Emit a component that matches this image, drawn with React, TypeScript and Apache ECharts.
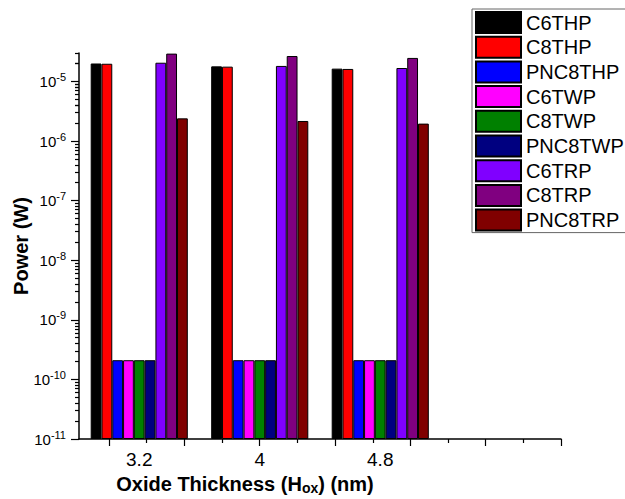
import React, { useEffect, useRef } from 'react';
import * as echarts from 'echarts';

// ---- data ----
const categories = ['3.2', '4', '4.8', ''];
const seriesNames = ['C6THP', 'C8THP', 'PNC8THP', 'C6TWP', 'C8TWP', 'PNC8TWP', 'C6TRP', 'C8TRP', 'PNC8TRP'];
const C6THP = [2.0e-5, 1.79e-5, 1.64e-5, null];
const C8THP = [1.98e-5, 1.77e-5, 1.62e-5, null];
const PNC8THP = [2.1e-10, 2.1e-10, 2.1e-10, null];
const C6TWP = [2.1e-10, 2.1e-10, 2.1e-10, null];
const C8TWP = [2.1e-10, 2.1e-10, 2.1e-10, null];
const PNC8TWP = [2.1e-10, 2.1e-10, 2.1e-10, null];
const C6TRP = [2.06e-5, 1.82e-5, 1.68e-5, null];
const C8TRP = [2.93e-5, 2.67e-5, 2.48e-5, null];
const PNC8TRP = [2.4e-6, 2.17e-6, 1.96e-6, null];
const seriesValues = [C6THP, C8THP, PNC8THP, C6TWP, C8TWP, PNC8TWP, C6TRP, C8TRP, PNC8TRP];
const colors = ['#000000', '#FF0000', '#0000FF', '#FF00FF', '#008000', '#000080', '#8000FF', '#800080', '#800000'];
const yMin = 1e-11;
const yMax = 3e-5;
const minorMultipliers = [1, 2, 3, 4, 5, 6, 7, 8, 9];

const FONT = 'Liberation Sans, Arial, sans-serif';

export default function App() {
  const ref = useRef<HTMLDivElement>(null);
  useEffect(() => {
    if (!ref.current) return;
    const chart = echarts.init(ref.current, undefined, { renderer: 'svg' });

    const W = 625, H = 499;
    const plot = { left: 79, right: 561, top: 53, bottom: 439 };
    const gridRight = W - plot.right;
    const gridBottom = H - plot.bottom;
    const plotH = plot.bottom - plot.top;
    const loLog = Math.log10(yMin);
    const hiLog = Math.log10(yMax);
    const dec = plotH / (hiLog - loLog);

    const grids: any[] = [
      { left: plot.left, right: gridRight, top: plot.top, bottom: gridBottom, containLabel: false, outerBoundsMode: 'none' },
    ];
    const xAxes: any[] = [
      {
        type: 'category', gridIndex: 0, data: categories,
        axisLine: { show: true, onZero: false, lineStyle: { color: '#000', width: 1.5 } },
        axisTick: { show: false },
        axisLabel: { color: '#000', fontSize: 19, fontFamily: FONT, margin: 11 },
        splitLine: { show: false },
        name: '{b|Oxide Thickness (H}{s|ox}{b|) (nm)}',
        nameLocation: 'middle', nameGap: 20,
        nameTextStyle: {
          verticalAlign: 'top',
          padding: [0, 150, 0, 0],
          rich: {
            b: { fontSize: 20, fontWeight: 'bold', fontFamily: FONT, color: '#000', lineHeight: 20, verticalAlign: 'top' },
            s: { fontSize: 14, fontWeight: 'bold', fontFamily: FONT, color: '#000', lineHeight: 28 },
          },
        },
      },
    ];
    const yAxes: any[] = [
      {
        type: 'log', logBase: 10, gridIndex: 0, min: yMin, max: yMax, startValue: yMin,
        axisLine: { show: true, lineStyle: { color: '#000', width: 1.5 } },
        axisTick: { show: false },
        axisLabel: { show: false },
        splitLine: { show: false },
        minorTick: { show: false },
        name: 'Power (W)', nameLocation: 'middle', nameGap: 48,
        nameTextStyle: { fontSize: 20, fontWeight: 'bold', fontFamily: FONT, color: '#000' },
      },
    ];

    // y tick grids (major at k=1, minor at k=2..9) on log positions
    minorMultipliers.forEach((k) => {
      const lo = Math.log10(k) + loLog;
      const hi = lo + Math.floor(hiLog - lo + 1e-9);
      const gi = grids.length;
      grids.push({
        left: plot.left, right: gridRight,
        top: plot.top + dec * (hiLog - hi),
        bottom: gridBottom + dec * (lo - loLog),
        containLabel: false, outerBoundsMode: 'none',
      });
      xAxes.push({ type: 'value', gridIndex: gi, show: false, min: 0, max: 1 });
      yAxes.push({
        type: 'value', gridIndex: gi, min: lo, max: hi, interval: 1,
        axisLine: { show: false },
        axisTick: { show: true, length: k === 1 ? 8 : 4, lineStyle: { color: '#000', width: 1.2 } },
        splitLine: { show: false },
        axisLabel: k === 1
          ? {
              show: true, showMinLabel: true, showMaxLabel: true, margin: 13,
              color: '#000', fontSize: 15, fontFamily: FONT,
              formatter: (v: number) => `10{sup|${Math.round(v)}}`,
              rich: { sup: { fontSize: 11, fontFamily: FONT, color: '#000', padding: [0, 0, 9, 0] } },
            }
          : { show: false },
      });
    });

    // x tick grids: long ticks and short ticks
    const xTicks = [
      { left: 109, right: 561, max: 12, len: 7 },
      { left: 146.7, right: 523.7, max: 10, len: 4 },
    ];
    xTicks.forEach((t) => {
      const gi = grids.length;
      grids.push({ left: t.left, right: W - t.right, top: plot.top, bottom: gridBottom, containLabel: false, outerBoundsMode: 'none' });
      xAxes.push({
        type: 'value', gridIndex: gi, min: 0, max: t.max, interval: 2,
        axisLine: { show: false },
        axisTick: { show: true, length: t.len, lineStyle: { color: '#000', width: 1.2 } },
        axisLabel: { show: false },
        splitLine: { show: false },
      });
      yAxes.push({ type: 'value', gridIndex: gi, show: false, min: 0, max: 1 });
    });

    const series = seriesNames.map((name, i) => ({
      name, type: 'bar', xAxisIndex: 0, yAxisIndex: 0,
      data: seriesValues[i],
      barGap: '0%', barCategoryGap: '19.4%',
      itemStyle: { color: colors[i], borderColor: '#000', borderWidth: 1 },
    }));

    chart.setOption({
      animation: false,
      backgroundColor: '#fff',
      grid: grids,
      xAxis: xAxes,
      yAxis: yAxes,
      legend: {
        orient: 'vertical', left: 472, top: 9,
        itemWidth: 45, itemHeight: 21, itemGap: 1.7,
        padding: [2, 3, 1, 3],
        borderColor: '#666', borderWidth: 1, backgroundColor: '#fff',
        icon: 'rect',
        textStyle: { fontSize: 20, color: '#000', fontFamily: FONT },
        data: seriesNames,
      },
      series,
    });
    return () => chart.dispose();
  }, []);
  return <div ref={ref} style={{ position: 'fixed', left: 0, top: 0, width: 625, height: 499 }} />;
}
